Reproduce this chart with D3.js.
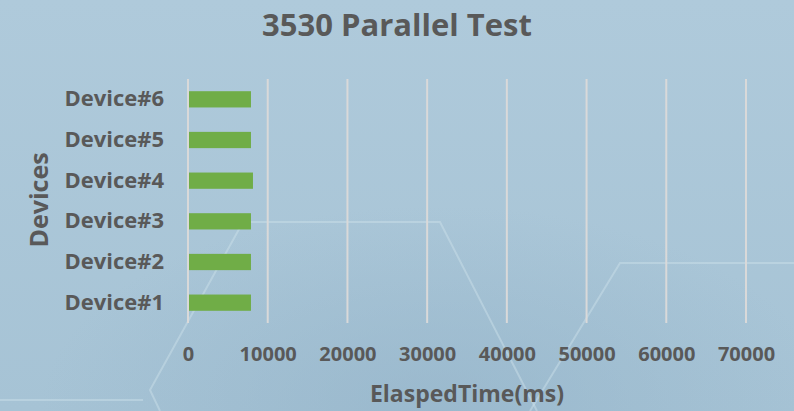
<!DOCTYPE html>
<html>
<head>
<meta charset="utf-8">
<script src="https://cdn.jsdelivr.net/npm/d3@7"></script>
<style>
  html, body { margin: 0; padding: 0; background: #a9c6d8; }
  svg { display: block; }
  text { font-family: "Open Sans", "DejaVu Sans", sans-serif; font-weight: 700; fill: #595959; }
</style>
</head>
<body>
<svg id="chart" width="794" height="411"></svg>
<script>
// Elapsed time per device (ms)
const devices = ["Device#1", "Device#2", "Device#3", "Device#4", "Device#5", "Device#6"];
const elapsedMs = [7900, 7900, 7900, 8150, 7900, 7900];
const xTicks = [0, 10000, 20000, 30000, 40000, 50000, 60000, 70000];
const chartTitle = "3530 Parallel Test";
const xTitle = "ElaspedTime(ms)";
const yTitle = "Devices";

const W = 794, H = 411;
const margin = { top: 79, right: 48, bottom: 88, left: 188 };
const svg = d3.select("#chart");

// Background: soft blue gradient with a slightly darker pool near the bottom
const defs = svg.append("defs");
const lg = defs.append("linearGradient").attr("id", "bg").attr("x1", 0).attr("y1", 0).attr("x2", 0).attr("y2", 1);
lg.append("stop").attr("offset", 0).attr("stop-color", "#afcadb");
lg.append("stop").attr("offset", 1).attr("stop-color", "#a6c3d5");
const rg = defs.append("radialGradient").attr("id", "pool")
  .attr("cx", 0.55).attr("cy", 1.0).attr("r", 0.5);
rg.append("stop").attr("offset", 0).attr("stop-color", "#92b2c8").attr("stop-opacity", 0.6);
rg.append("stop").attr("offset", 1).attr("stop-color", "#92b2c8").attr("stop-opacity", 0);
svg.append("rect").attr("width", W).attr("height", H).attr("fill", "url(#bg)");
svg.append("rect").attr("width", W).attr("height", H).attr("fill", "url(#pool)");

// Decorative hexagon-style strokes in the backdrop
const deco = [
  [[160, 411], [150, 390], [243, 222], [440, 222], [537, 411]],
  [[530, 411], [620, 263], [794, 263]],
  [[0, 400], [143, 400]]
];
svg.append("g").selectAll("path").data(deco).join("path")
  .attr("d", d3.line())
  .attr("fill", "none")
  .attr("stroke", "#cfe2ec")
  .attr("stroke-opacity", 0.45)
  .attr("stroke-width", 2);

const x = d3.scaleLinear().domain([0, 70000]).range([margin.left, W - margin.right]);
const y = d3.scaleBand().domain(devices.slice().reverse())
  .range([margin.top, H - margin.bottom]).paddingInner(0.6).paddingOuter(0.3);

// Vertical gridlines
svg.append("g").selectAll("line").data(xTicks).join("line")
  .attr("x1", d => x(d)).attr("x2", d => x(d))
  .attr("y1", margin.top).attr("y2", H - margin.bottom)
  .attr("stroke", "#d9d9d9").attr("stroke-width", 2);

// Bars
svg.append("g").selectAll("rect").data(devices).join("rect")
  .attr("x", x(0) + 1)
  .attr("y", d => y(d))
  .attr("width", (d, i) => x(elapsedMs[i]) - x(0) - 1)
  .attr("height", y.bandwidth())
  .attr("fill", "#70ad47");

// Category labels
const yAxis = d3.axisLeft(y).tickSize(0).tickPadding(24);
const gy = svg.append("g").attr("transform", `translate(${margin.left},0)`).call(yAxis);
gy.select(".domain").remove();
gy.selectAll("text").attr("font-size", 22).attr("fill", "#595959")
  .style("font-family", "'Open Sans', sans-serif").style("font-weight", 700);

// Value axis labels
const xAxis = d3.axisBottom(x).tickValues(xTicks).tickFormat(d3.format("d")).tickSize(0).tickPadding(24);
const gx = svg.append("g").attr("transform", `translate(0,${H - margin.bottom})`).call(xAxis);
gx.select(".domain").remove();
gx.selectAll("text").attr("font-size", 20).attr("fill", "#595959")
  .style("font-family", "'Open Sans', sans-serif").style("font-weight", 700);

// Titles
svg.append("text").attr("x", 397).attr("y", 36).attr("text-anchor", "middle")
  .attr("font-size", 31).text(chartTitle);
svg.append("text").attr("x", (x(0) + x(70000)) / 2).attr("y", 402).attr("text-anchor", "middle")
  .attr("font-size", 23).text(xTitle);
svg.append("text").attr("transform", "translate(48,200) rotate(-90)").attr("text-anchor", "middle")
  .attr("font-size", 25).text(yTitle);
</script>
</body>
</html>
